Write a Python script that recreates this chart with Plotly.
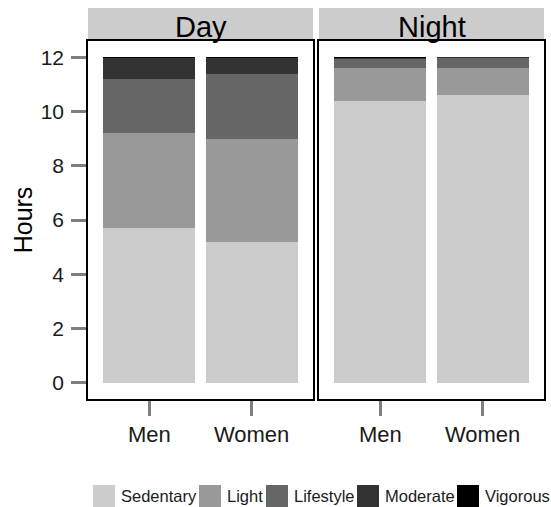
import plotly.graph_objects as go
from plotly.subplots import make_subplots

# -------------------- Data (hours)
periods = ['Day', 'Night']
groups = ['Men', 'Women']
activities = ['Sedentary', 'Light', 'Lifestyle', 'Moderate', 'Vigorous']
colors = ['#cccccc', '#999999', '#666666', '#333333', '#000000']

day_hours = {
    'Sedentary': [5.7, 5.2],
    'Light': [3.5, 3.8],
    'Lifestyle': [2.0, 2.4],
    'Moderate': [0.79, 0.59],
    'Vigorous': [0.01, 0.01],
}
night_hours = {
    'Sedentary': [10.4, 10.6],
    'Light': [1.2, 1.0],
    'Lifestyle': [0.34, 0.38],
    'Moderate': [0.05, 0.02],
    'Vigorous': [0.01, 0.0],
}
y_ticks = [0, 2, 4, 6, 8, 10, 12]

FONT = 'Liberation Sans, Arial, sans-serif'
W, H = 551, 507
M = dict(l=88, r=7, t=41, b=108)
plot_w = W - M['l'] - M['r']
plot_h = H - M['t'] - M['b']


def px_x(p):
    # pixel column -> paper x
    return (p - M['l']) / plot_w


def px_y(p):
    # pixel row -> paper y
    return (H - M['b'] - p) / plot_h


fig = make_subplots(
    rows=1, cols=2, shared_yaxes=True,
    horizontal_spacing=6 / plot_w,
)

for col, hours in enumerate([day_hours, night_hours], start=1):
    for name, color in zip(activities, colors):
        fig.add_trace(
            go.Bar(
                x=groups, y=hours[name], name=name,
                marker_color=color, marker_line_width=0,
                width=0.9, showlegend=False,
            ),
            row=1, col=col,
        )

fig.update_layout(
    barmode='stack',
    width=W, height=H,
    margin=M,
    plot_bgcolor='white',
    paper_bgcolor='white',
    font=dict(family=FONT, color='#1a1a1a'),
    showlegend=False,
)

fig.update_xaxes(
    range=[-0.6, 1.6],
    showline=True, mirror=True, linecolor='black', linewidth=1.5,
    ticks='outside', ticklen=15, tickwidth=2.5, tickcolor='#7f7f7f',
    tickfont=dict(size=22, color='#1a1a1a'),
    ticklabelstandoff=0,
    showgrid=False, zeroline=False, automargin=False,
)
fig.update_yaxes(
    range=[-0.6, 12.6],
    tickvals=y_ticks,
    showline=True, mirror=True, linecolor='black', linewidth=1.5,
    showgrid=False, zeroline=False, automargin=False,
)
fig.update_yaxes(
    ticks='outside', ticklen=15, tickwidth=2.5, tickcolor='#7f7f7f',
    tickfont=dict(size=21, color='#1a1a1a'),
    ticklabelstandoff=3,
    title=dict(text='Hours', font=dict(size=25, color='black'), standoff=1),
    row=1, col=1,
)
fig.update_yaxes(showticklabels=False, ticks='', row=1, col=2)

# -------------------- Facet strips
strip_top = 1 + 33 / plot_h
for i, period in enumerate(periods):
    dom = fig.layout['xaxis' if i == 0 else 'xaxis2'].domain
    fig.add_shape(
        type='rect', xref='paper', yref='paper',
        x0=dom[0], x1=dom[1], y0=1, y1=strip_top,
        fillcolor='#cccccc', line_width=0, layer='below',
    )
    fig.add_annotation(
        text=period, xref='paper', yref='paper',
        x=(dom[0] + dom[1]) / 2, y=(1 + strip_top) / 2 - 2 / plot_h,
        xanchor='center', yanchor='middle', showarrow=False,
        font=dict(size=29, color='black', family=FONT),
    )

# -------------------- Legend along the bottom (ggplot style keys)
key_left = [93, 199, 266, 357, 457]
key_size = 22
key_top = 485
for left, name, color in zip(key_left, activities, colors):
    fig.add_shape(
        type='rect', xref='paper', yref='paper',
        x0=px_x(left), x1=px_x(left + key_size),
        y0=px_y(key_top + key_size), y1=px_y(key_top),
        fillcolor=color, line_width=0,
    )
    fig.add_annotation(
        text=name, xref='paper', yref='paper',
        x=px_x(left + key_size + 4), y=px_y(key_top + key_size / 2),
        xanchor='left', yanchor='middle', showarrow=False,
        font=dict(size=16.5, color='#1a1a1a', family=FONT),
    )

# the page body has an 8px default margin; drop it so the figure sits at 0,0
fig.write_html(
    'out.html',
    config={'displayModeBar': False},
    post_script="document.body.style.margin='0';",
)
